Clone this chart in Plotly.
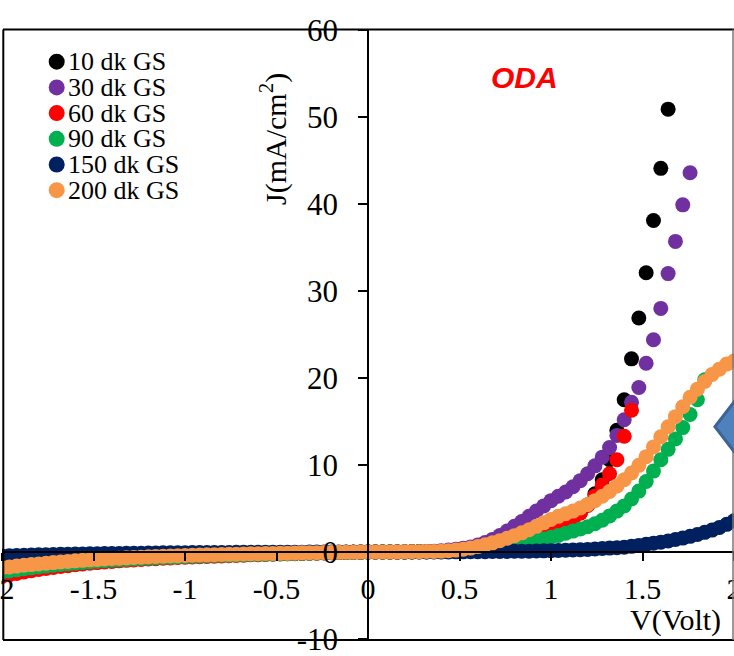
import plotly.graph_objects as go

# ---------------- data ----------------
V = [-2.00,-1.96,-1.92,-1.88,-1.84,-1.80,-1.76,-1.72,-1.68,-1.64,
     -1.60,-1.56,-1.52,-1.48,-1.44,-1.40,-1.36,-1.32,-1.28,-1.24,
     -1.20,-1.16,-1.12,-1.08,-1.04,-1.00,-0.96,-0.92,-0.88,-0.84,
     -0.80,-0.76,-0.72,-0.68,-0.64,-0.60,-0.56,-0.52,-0.48,-0.44,
     -0.40,-0.36,-0.32,-0.28,-0.24,-0.20,-0.16,-0.12,-0.08,-0.04,
     0.00,
     0.04,0.08,0.12,0.16,0.20,0.24,0.28,0.32,0.36,0.40,
     0.44,0.48,0.52,0.56,0.60,0.64,0.68,0.72,0.76,0.80,
     0.84,0.88,0.92,0.96,1.00,1.04,1.08,1.12,1.16,1.20,
     1.24,1.28,1.32,1.36,1.40,1.44,1.48,1.52,1.56,1.60,
     1.64,1.68,1.72,1.76,1.80,1.84,1.88,1.92,1.96,2.00]

J_10dk = [-2.00,-1.89,-1.78,-1.68,-1.58,-1.49,-1.41,-1.33,-1.25,-1.18,
          -1.11,-1.05,-0.99,-0.93,-0.88,-0.83,-0.78,-0.74,-0.70,-0.65,
          -0.62,-0.58,-0.55,-0.51,-0.48,-0.45,-0.43,-0.40,-0.37,-0.35,
          -0.33,-0.31,-0.29,-0.27,-0.25,-0.23,-0.22,-0.20,-0.18,-0.16,
          -0.15,-0.13,-0.11,-0.10,-0.08,-0.07,-0.05,-0.04,-0.03,-0.01,
          0.00,
          0.00,0.00,0.00,0.01,0.01,0.02,0.03,0.04,0.05,0.07,
          0.10,0.14,0.19,0.26,0.35,0.46,0.60,0.76,0.93,1.10,
          1.28,1.48,1.73,2.03,2.38,2.78,3.24,3.80,4.50,5.40,
          6.70,8.30,10.6,14.0,17.5,22.2,26.9,32.1,38.1,44.1,
          50.9]

J_30dk = [-1.90,-1.80,-1.70,-1.61,-1.52,-1.44,-1.36,-1.28,-1.21,-1.14,
          -1.08,-1.02,-0.96,-0.90,-0.85,-0.80,-0.75,-0.71,-0.67,-0.63,
          -0.59,-0.55,-0.52,-0.49,-0.46,-0.43,-0.40,-0.37,-0.35,-0.33,
          -0.31,-0.29,-0.27,-0.25,-0.23,-0.21,-0.19,-0.17,-0.16,-0.14,
          -0.13,-0.11,-0.10,-0.09,-0.07,-0.06,-0.05,-0.04,-0.03,-0.01,
          0.00,
          0.00,0.00,0.01,0.01,0.02,0.03,0.05,0.07,0.10,0.15,
          0.22,0.32,0.44,0.58,0.80,1.10,1.45,1.90,2.40,2.95,
          3.50,4.10,4.70,5.30,5.90,6.40,6.90,7.50,8.20,9.00,
          9.90,10.9,12.0,13.4,15.2,17.2,18.9,21.7,24.4,28.0,
          32.0,35.7,39.9,43.6]

J_60dk = [-2.80,-2.62,-2.46,-2.30,-2.16,-2.02,-1.90,-1.78,-1.67,-1.57,
          -1.47,-1.38,-1.30,-1.22,-1.15,-1.08,-1.02,-0.96,-0.91,-0.86,
          -0.81,-0.77,-0.72,-0.68,-0.64,-0.61,-0.57,-0.54,-0.51,-0.48,
          -0.45,-0.42,-0.39,-0.36,-0.33,-0.31,-0.28,-0.26,-0.23,-0.21,
          -0.19,-0.17,-0.15,-0.13,-0.11,-0.09,-0.07,-0.05,-0.03,-0.02,
          0.00,
          0.00,0.00,0.00,0.01,0.01,0.02,0.03,0.04,0.05,0.07,
          0.10,0.14,0.19,0.26,0.35,0.46,0.60,0.76,0.92,1.08,
          1.25,1.45,1.70,2.00,2.35,2.75,3.20,3.75,4.45,5.35,
          6.45,7.70,9.00,10.6,13.3,16.3]

J_90dk = [-2.30,-2.17,-2.05,-1.93,-1.82,-1.72,-1.62,-1.53,-1.44,-1.36,
          -1.28,-1.21,-1.14,-1.07,-1.01,-0.95,-0.90,-0.85,-0.80,-0.75,
          -0.71,-0.67,-0.63,-0.59,-0.56,-0.52,-0.49,-0.46,-0.43,-0.41,
          -0.38,-0.36,-0.33,-0.31,-0.29,-0.27,-0.25,-0.23,-0.21,-0.19,
          -0.17,-0.15,-0.13,-0.11,-0.10,-0.08,-0.06,-0.05,-0.03,-0.02,
          0.00,
          0.00,0.00,0.00,0.00,0.01,0.01,0.02,0.02,0.03,0.04,
          0.06,0.08,0.11,0.15,0.20,0.27,0.35,0.45,0.58,0.74,
          0.92,1.10,1.28,1.48,1.70,1.90,2.15,2.40,2.65,2.90,
          3.25,3.65,4.15,4.70,5.30,6.10,7.00,8.10,9.30,10.6,
          11.8,13.0,14.3,15.8,17.5,19.8]

J_150dk = [-0.45,-0.42,-0.40,-0.37,-0.35,-0.33,-0.31,-0.29,-0.27,-0.25,
           -0.24,-0.22,-0.21,-0.19,-0.18,-0.17,-0.16,-0.15,-0.14,-0.13,
           -0.12,-0.11,-0.10,-0.09,-0.09,-0.08,-0.07,-0.07,-0.06,-0.06,
           -0.05,-0.05,-0.04,-0.04,-0.04,-0.03,-0.03,-0.03,-0.02,-0.02,
           -0.02,-0.02,-0.01,-0.01,-0.01,-0.01,-0.01,0.00,0.00,0.00,
           0.00,
           0.00,0.00,0.00,0.00,0.00,0.00,0.00,0.01,0.01,0.01,
           0.01,0.02,0.02,0.03,0.03,0.04,0.05,0.06,0.07,0.08,
           0.09,0.10,0.11,0.13,0.15,0.17,0.20,0.23,0.26,0.30,
           0.35,0.40,0.45,0.50,0.56,0.65,0.76,0.88,1.00,1.13,
           1.27,1.43,1.60,1.80,2.02,2.26,2.52,2.82,3.18,3.60]

J_200dk = [-1.80,-1.71,-1.62,-1.53,-1.45,-1.37,-1.29,-1.22,-1.15,-1.08,
           -1.02,-0.96,-0.90,-0.85,-0.80,-0.75,-0.71,-0.67,-0.63,-0.59,
           -0.55,-0.52,-0.49,-0.46,-0.43,-0.40,-0.38,-0.35,-0.33,-0.31,
           -0.29,-0.27,-0.25,-0.23,-0.21,-0.19,-0.18,-0.16,-0.15,-0.13,
           -0.12,-0.10,-0.09,-0.08,-0.07,-0.05,-0.04,-0.03,-0.02,-0.01,
           0.00,
           0.00,0.00,0.01,0.01,0.02,0.03,0.04,0.05,0.07,0.10,
           0.15,0.22,0.32,0.45,0.62,0.82,1.05,1.30,1.58,1.88,
           2.20,2.55,2.95,3.35,3.75,4.10,4.40,4.70,5.05,5.45,
           5.90,6.40,6.95,7.60,8.30,9.08,9.96,10.96,12.08,13.24,
           14.40,15.56,16.70,17.78,18.72,19.60,20.40,21.02,21.60,21.95]

series_names = ["10 dk GS", "30 dk GS", "60 dk GS", "90 dk GS", "150 dk GS", "200 dk GS"]
series_values = [J_10dk, J_30dk, J_60dk, J_90dk, J_150dk, J_200dk]
series_colors = ["#000000", "#7030A0", "#FF0000", "#00B050", "#002060", "#F79646"]

x_tickvals = [-2, -1.5, -1, -0.5, 0, 0.5, 1, 1.5, 2]
x_ticktext = ["-2", "-1.5", "-1", "-0.5", "0", "0.5", "1", "1.5", "2"]
y_tickvals = [-10, 0, 10, 20, 30, 40, 50, 60]
y_ticktext = ["-10", "0", "10", "20", "30", "40", "50", "60"]

for s in series_values:
    assert len(s) <= len(V), len(s)

# ---------------- figure ----------------
W, H = 734, 656
ML, MR, MT, MB = 2, 0, 30, 17
PW, PH = W - ML - MR, H - MT - MB


def pxx(p):
    return (p - ML) / PW


def pxy(p):
    return (H - MB - p) / PH


SERIF = "Liberation Serif"

fig = go.Figure()
for name, vals, col in zip(series_names, series_values, series_colors):
    fig.add_trace(go.Scatter(
        x=V[:len(vals)], y=vals, mode="markers", name=name,
        marker=dict(size=15, color=col, line=dict(width=0)),
        showlegend=False, cliponaxis=True,
    ))

YMIN, YMAX = -10, 60
XMIN, XMAX = -2, 2

fig.update_layout(
    width=W, height=H,
    margin=dict(l=ML, r=MR, t=MT, b=MB, pad=0, autoexpand=False),
    paper_bgcolor="white", plot_bgcolor="white",
    font=dict(family=SERIF, size=30, color="black"),
    xaxis=dict(
        range=[XMIN, XMAX], showgrid=False, zeroline=False, automargin=False,
        showline=True, linecolor="black", linewidth=1.5,
        anchor="free", position=(0 - YMIN) / (YMAX - YMIN),
        tickmode="array", tickvals=x_tickvals, ticktext=x_ticktext,
        ticks="outside", ticklen=8, tickwidth=1.5, tickcolor="black",
        tickfont=dict(family=SERIF, size=30, color="black"),
        ticklabelstandoff=2, ticklabeloverflow="allow",
    ),
    yaxis=dict(
        range=[YMIN, YMAX], showgrid=False, zeroline=False, automargin=False,
        showline=True, linecolor="black", linewidth=1.5,
        anchor="free", position=(0 - XMIN) / (XMAX - XMIN),
        tickmode="array", tickvals=y_tickvals, ticktext=y_ticktext,
        ticks="outside", ticklen=9, tickwidth=1.5, tickcolor="black",
        tickfont=dict(family=SERIF, size=31, color="black"),
        ticklabelstandoff=14, ticklabeloverflow="allow",
    ),
)

shapes = []
# outer frame (black top/left/bottom, grey right)
shapes.append(dict(type="line", xref="paper", yref="paper", x0=pxx(3), x1=1.0, y0=pxy(29.5), y1=pxy(29.5),
                   line=dict(color="black", width=2)))
shapes.append(dict(type="line", xref="paper", yref="paper", x0=pxx(3.3), x1=pxx(3.3), y0=pxy(29.5), y1=pxy(640),
                   line=dict(color="black", width=2)))
shapes.append(dict(type="line", xref="paper", yref="paper", x0=pxx(3), x1=1.0, y0=pxy(640), y1=pxy(640),
                   line=dict(color="black", width=2)))
shapes.append(dict(type="line", xref="paper", yref="paper", x0=pxx(733), x1=pxx(733), y0=pxy(29.5), y1=pxy(640),
                   line=dict(color="#777777", width=1.5)))
# partially visible blue diamond at right edge
shapes.append(dict(type="path", xref="x", yref="y",
                   path="M 1.896 14.4 L 2.25 24.1 L 2.6 14.4 L 2.25 4.7 Z",
                   fillcolor="#4F81BD", line=dict(color="#3C6496", width=3), layer="above"))

annotations = []
# custom legend
row_y = [61.7, 87.4, 113.1, 138.8, 164.5, 190.2]
for name, col, ry in zip(series_names, series_colors, row_y):
    shapes.append(dict(type="circle", xref="paper", yref="paper",
                       xsizemode="pixel", ysizemode="pixel",
                       xanchor=pxx(56.7), yanchor=pxy(ry),
                       x0=-8, x1=8, y0=-8, y1=8,
                       fillcolor=col, line=dict(width=0)))
    annotations.append(dict(xref="paper", yref="paper", x=pxx(66), y=pxy(ry),
                            xanchor="left", yanchor="middle", showarrow=False,
                            text=name, font=dict(family=SERIF, size=26, color="black")))

annotations.append(dict(xref="paper", yref="paper", x=pxx(273), y=pxy(139),
                        xanchor="center", yanchor="middle", showarrow=False, textangle=-90,
                        text="J(mA/cm<sup>2</sup>)", font=dict(family=SERIF, size=30, color="black")))
annotations.append(dict(xref="paper", yref="paper", x=pxx(675), y=pxy(620),
                        xanchor="center", yanchor="middle", showarrow=False,
                        text="V(Volt)", font=dict(family=SERIF, size=30, color="black")))
annotations.append(dict(xref="paper", yref="paper", x=pxx(524), y=pxy(77),
                        xanchor="center", yanchor="middle", showarrow=False,
                        text="<b><i>ODA</i></b>",
                        font=dict(family="Liberation Sans", size=30, color="#FF0000")))

fig.update_layout(shapes=shapes, annotations=annotations)
fig.write_html("out.html")
